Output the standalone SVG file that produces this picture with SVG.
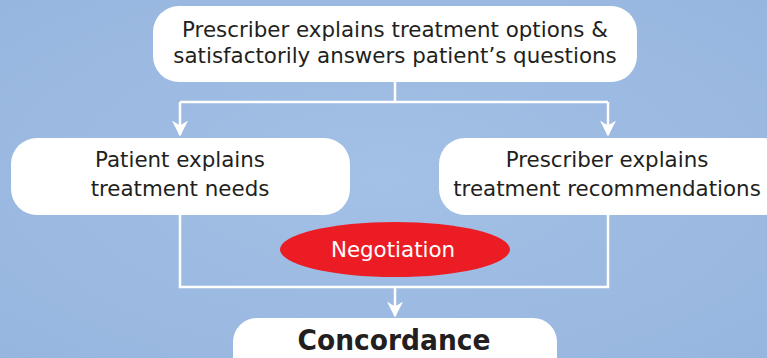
<svg xmlns="http://www.w3.org/2000/svg" width="767" height="358" viewBox="0 0 767 358">
<defs>
<style>
.box{fill:#ffffff;}
.t{font-family:"DejaVu Sans","Liberation Sans",sans-serif;font-size:21.4px;fill:#231f20;text-anchor:middle;}
.neg{font-family:"DejaVu Sans","Liberation Sans",sans-serif;font-size:21.4px;fill:#ffffff;text-anchor:middle;}
.big{font-family:"DejaVu Sans","Liberation Sans",sans-serif;font-size:29px;font-weight:bold;fill:#231f20;text-anchor:middle;}
.ln{stroke:#ffffff;stroke-width:2.5;fill:none;}
</style>
<marker id="ah" viewBox="0 0 10 10" refX="9" refY="5" markerWidth="16" markerHeight="16" markerUnits="userSpaceOnUse" orient="auto">
<path d="M0,0 L10,5 L0,10 L3,5 Z" fill="#ffffff"/>
</marker>
<radialGradient id="bg" cx="50%" cy="50%" r="70%">
<stop offset="0" stop-color="#a3c0e5"/>
<stop offset="1" stop-color="#97b6df"/>
</radialGradient>
</defs>
<rect width="767" height="358" fill="url(#bg)"/>
<g id="connectors">
<path class="ln" d="M395,82 V102 M180,102 H608"/>
<path class="ln" d="M180,102 V135" marker-end="url(#ah)"/>
<path class="ln" d="M608,102 V135" marker-end="url(#ah)"/>
<path class="ln" d="M180,215 V287 H608 V215"/>
<path class="ln" d="M395,287 V316" marker-end="url(#ah)"/>
</g>
<g id="top">
<rect class="box" x="153" y="6" width="484" height="76" rx="26"/>
<text class="t" x="395" y="37">Prescriber explains treatment options &amp;</text>
<text class="t" x="395" y="63">satisfactorily answers patient’s questions</text>
</g>
<g id="patient">
<rect class="box" x="11" y="138" width="339" height="77" rx="26"/>
<text class="t" x="180" y="167">Patient explains</text>
<text class="t" x="180" y="196">treatment needs</text>
</g>
<g id="prescriber">
<rect class="box" x="439" y="138" width="350" height="77" rx="26"/>
<text class="t" x="607" y="167">Prescriber explains</text>
<text class="t" x="607" y="196">treatment recommendations</text>
</g>
<g id="negotiation">
<ellipse cx="395" cy="249.5" rx="115" ry="27.5" fill="#ec1c24"/>
<text class="neg" x="393" y="257">Negotiation</text>
</g>
<g id="concordance">
<rect class="box" x="233" y="318" width="324" height="70" rx="24"/>
<text class="big" x="394" y="350" textLength="193" lengthAdjust="spacingAndGlyphs">Concordance</text>
</g>
</svg>
